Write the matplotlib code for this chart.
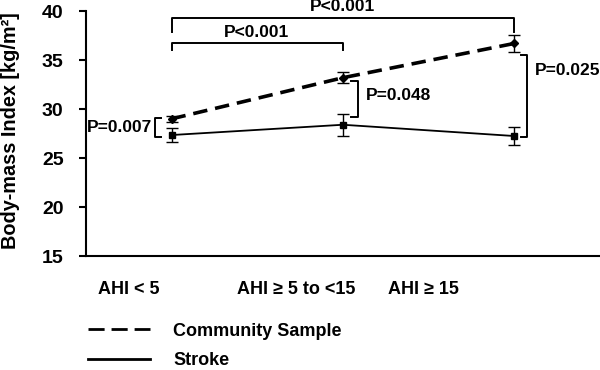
import matplotlib
matplotlib.use("Agg")
import matplotlib.pyplot as plt
from matplotlib.lines import Line2D

categories = ["AHI < 5", "AHI \u2265 5 to <15", "AHI \u2265 15"]
community = [29.0, 33.2, 36.7]
community_err = [0.3, 0.55, 0.85]
stroke = [27.35, 28.4, 27.25]
stroke_err = [0.75, 1.1, 0.9]
yticks = [15, 20, 25, 30, 35, 40]

plt.rcParams['font.family'] = ['Liberation Sans', 'DejaVu Sans']
plt.rcParams['font.weight'] = 'bold'

fig = plt.figure(figsize=(6, 3.7), dpi=100)
ax = fig.add_axes([0.143, 0.308, 0.857, 0.662])
x = list(range(len(categories)))

ax.errorbar(x, community, yerr=community_err, color='black', lw=2.6,
            linestyle=(0, (4, 2.2)), marker='D', ms=4, capsize=4, elinewidth=1,
            capthick=1, label='Community Sample')
ax.errorbar(x, stroke, yerr=stroke_err, color='black', lw=1.3, linestyle='-',
            marker='s', ms=5, capsize=4, elinewidth=1, capthick=1, label='Stroke')

ax.set_xlim(-0.5, 2.5)
ax.set_ylim(15, 40)
ax.set_yticks(yticks)
ax.set_xticks([])
for s in ['top', 'right']:
    ax.spines[s].set_visible(False)
ax.spines['left'].set_linewidth(1.5)
ax.spines['bottom'].set_linewidth(1.5)
ax.tick_params(axis='y', direction='out', length=5, width=1.5, labelsize=14, pad=11)
for t in ax.get_yticklabels():
    t.set_fontweight('bold')
ax.set_ylabel('Body-mass Index [kg/m\u00b2]', fontsize=14.3, fontweight='bold')
ax.yaxis.set_label_coords(-0.128, 0.51)

# category labels below axis (placed as in the reference)
label_pos = [-0.25, 0.73, 1.47]
for xi, c in zip(label_pos, categories):
    ax.text(xi, 11.6, c, ha='center', va='center', fontsize=13, fontweight='bold',
            clip_on=False)

lw = 1.4
fs = 12.5
# top bracket 0 -> 2
ax.plot([0, 0, 2, 2], [37.85, 39.3, 39.3, 37.85], color='black', lw=lw, clip_on=False)
ax.text(1.0, 40.5, 'P<0.001', ha='center', va='center', fontsize=fs, fontweight='bold',
        clip_on=False)
# second bracket 0 -> 1
ax.plot([0, 0, 1, 1], [36.0, 36.73, 36.73, 36.0], color='black', lw=lw)
ax.text(0.494, 37.86, 'P<0.001', ha='center', va='center', fontsize=fs, fontweight='bold')
# P=0.007
ax.plot([-0.064, -0.099, -0.099, -0.064], [29.08, 29.08, 27.14, 27.14], color='black', lw=lw)
ax.text(-0.113, 28.1, 'P=0.007', ha='right', va='center', fontsize=fs, fontweight='bold')
# P=0.048
ax.plot([1.05, 1.087, 1.087, 1.05], [32.86, 32.86, 29.18, 29.18], color='black', lw=lw)
ax.text(1.134, 31.43, 'P=0.048', ha='left', va='center', fontsize=fs, fontweight='bold')
# P=0.025
ax.plot([2.04, 2.076, 2.076, 2.04], [35.5, 35.5, 27.14, 27.14], color='black', lw=lw)
ax.text(2.12, 33.98, 'P=0.025', ha='left', va='center', fontsize=fs, fontweight='bold',
        clip_on=False)

# legend
h1 = Line2D([], [], color='black', lw=2.0, linestyle=(0, (5.8, 2.5)))
h2 = Line2D([], [], color='black', lw=2.0, linestyle='-')
fig.legend([h1, h2], ['Community Sample', 'Stroke'], loc='upper left',
           bbox_to_anchor=(0.147, 0.128), frameon=False,
           prop={'weight': 'bold', 'size': 13}, handlelength=3.44,
           handletextpad=1.28, labelspacing=0.7, borderpad=0, borderaxespad=0)

fig.savefig('out.png', dpi=100)
